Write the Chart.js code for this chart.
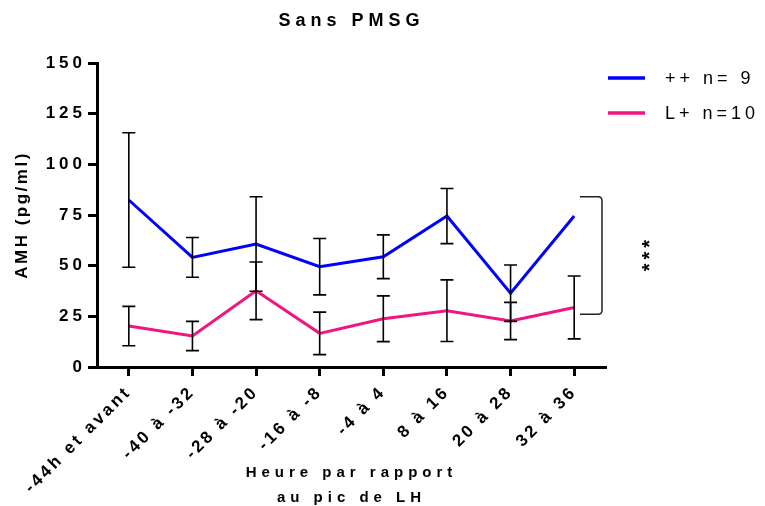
<!DOCTYPE html>
<html><head><meta charset="utf-8">
<script src="https://cdn.jsdelivr.net/npm/chart.js@4.4.1/dist/chart.umd.min.js"></script>
<style>html,body{margin:0;padding:0;background:#fff;overflow:hidden;}</style>
</head><body>
<canvas id="c" width="765" height="506" style="display:block;width:765px;height:506px"></canvas>
<script>
// ---- data ----
const categories = ['-44h et avant', '-40 à -32', '-28 à -20', '-16 à -8', '-4 à 4', '8 à 16', '20 à 28', '32 à 36'];
const seriesNames = ['++ n= 9', 'L+ n=10'];
const plusMean = [82.4, 54.1, 60.7, 49.5, 54.4, 74.5, 36.4, 74.5];
const plusSem  = [33.2, 9.8, 23.3, 13.9, 10.8, 13.6, 13.9, null];
const lPlusMean = [20.2, 15.3, 37.6, 16.6, 23.8, 27.8, 22.7, 29.4];
const lPlusSem  = [9.7, 7.2, 14.2, 10.5, 11.3, 15.2, 9.2, 15.5];
const yTicks = [0, 25, 50, 75, 100, 125, 150];
const bracketRange = [26, 84];
const significance = '***';
const chartTitle = 'Sans PMSG';
const xTitle = ['Heure par rapport', 'au pic de LH'];
const yTitle = 'AMH (pg/ml)';

const FAM = '"Liberation Sans", Arial, sans-serif';
const BLUE = '#0000FF';
const PINK = 'rgb(240,22,128)';

function patchSpacing(scale, tickSp, titleSp) {
  if (scale._spPatched) return;
  scale._spPatched = true;
  const dl = scale.drawLabels.bind(scale);
  scale.drawLabels = function (a) { const c = this.ctx; c.save(); c.letterSpacing = tickSp + 'px'; dl(a); c.restore(); };
  const dt = scale.drawTitle.bind(scale);
  scale.drawTitle = function (a) { const c = this.ctx; c.save(); c.letterSpacing = titleSp + 'px'; dt(a); c.restore(); };
}

const errorBars = {
  id: 'errorBars',
  afterDatasetsDraw(chart) {
    const { ctx, scales: { x, y } } = chart;
    const errs = [plusSem, lPlusSem];
    ctx.save();
    ctx.strokeStyle = '#000';
    ctx.lineWidth = 1.6;
    chart.data.datasets.forEach((ds, di) => {
      ds.data.forEach((v, i) => {
        const e = errs[di][i];
        if (e == null) return;
        const px = x.getPixelForValue(i);
        const t = y.getPixelForValue(v + e);
        const b = y.getPixelForValue(v - e);
        ctx.beginPath();
        ctx.moveTo(px, t); ctx.lineTo(px, b);
        ctx.moveTo(px - 6.5, t); ctx.lineTo(px + 6.5, t);
        ctx.moveTo(px - 6.5, b); ctx.lineTo(px + 6.5, b);
        ctx.stroke();
      });
    });
    ctx.restore();
  }
};

const extras = {
  id: 'extras',
  beforeDraw(chart) { chart.ctx.letterSpacing = '5px'; },
  afterDraw(chart) {
    const { ctx, chartArea: a, scales: { y } } = chart;
    ctx.save();
    // legend
    ctx.letterSpacing = '4px';
    ctx.font = '18px ' + FAM;
    ctx.textBaseline = 'middle';
    ctx.textAlign = 'left';
    ctx.fillStyle = '#000';
    chart.data.datasets.forEach((ds, i) => {
      const ly = a.top + 15 + i * 35;
      ctx.strokeStyle = ds.borderColor;
      ctx.lineWidth = 3.5;
      ctx.beginPath(); ctx.moveTo(a.right + 2, ly); ctx.lineTo(a.right + 39, ly); ctx.stroke();
      ctx.fillText(ds.label, a.right + 59, ly + 1);
    });
    // bracket
    const bt = y.getPixelForValue(bracketRange[1]);
    const bb = y.getPixelForValue(bracketRange[0]);
    const bx = a.right - 4, bl = a.right - 26, r = 4;
    ctx.strokeStyle = '#222';
    ctx.lineWidth = 1.5;
    ctx.beginPath();
    ctx.moveTo(bl, bt);
    ctx.lineTo(bx - r, bt);
    ctx.quadraticCurveTo(bx, bt, bx, bt + r);
    ctx.lineTo(bx, bb - r);
    ctx.quadraticCurveTo(bx, bb, bx - r, bb);
    ctx.lineTo(bl, bb);
    ctx.stroke();
    // significance
    const my = y.getPixelForValue((bracketRange[0] + bracketRange[1]) / 2);
    ctx.translate(a.right + 39, my);
    ctx.rotate(-Math.PI / 2);
    ctx.letterSpacing = '4px';
    ctx.font = 'bold 20px ' + FAM;
    ctx.textAlign = 'center';
    ctx.textBaseline = 'alphabetic';
    ctx.fillText(significance, 2, 11);
    ctx.restore();
  }
};

new Chart(document.getElementById('c'), {
  type: 'line',
  data: {
    labels: categories,
    datasets: [
      { label: seriesNames[0], data: plusMean, borderColor: BLUE, borderWidth: 3, pointRadius: 0, tension: 0, fill: false },
      { label: seriesNames[1], data: lPlusMean, borderColor: PINK, borderWidth: 3, pointRadius: 0, tension: 0, fill: false }
    ]
  },
  options: {
    responsive: false,
    devicePixelRatio: 1,
    animation: false,
    layout: { padding: { left: 0, right: 159, top: 0, bottom: 0 } },
    plugins: {
      legend: { display: false },
      tooltip: { enabled: false },
      title: {
        display: true, text: chartTitle, color: '#000', fullSize: false,
        font: { family: FAM, size: 18, weight: 'bold' },
        padding: { top: 10, bottom: 31.4 }
      }
    },
    scales: {
      x: {
        type: 'category',
        offset: true,
        grid: { display: true, drawOnChartArea: false, drawTicks: true, tickLength: 9, tickWidth: 3, tickColor: '#000', offset: false },
        border: { display: true, width: 3, color: '#000' },
        ticks: { color: '#000', autoSkip: false, maxRotation: 45, minRotation: 45, padding: 6, font: { family: FAM, size: 17, weight: 'bold' } },
        title: { display: true, text: xTitle, color: '#000', padding: { top: 0, bottom: -4 }, font: { family: FAM, size: 15, weight: 'bold', lineHeight: 1.667 } },
        afterFit(s) { s.height = 139; patchSpacing(s, 3, 5); }
      },
      y: {
        min: 0, max: 150,
        afterBuildTicks(s) { s.ticks = yTicks.map(v => ({ value: v })); },
        grid: { display: true, drawOnChartArea: false, drawTicks: true, tickLength: 9, tickWidth: 3, tickColor: '#000' },
        border: { display: true, width: 3, color: '#000' },
        ticks: { color: '#000', padding: 2, font: { family: FAM, size: 17, weight: 'bold' } },
        title: { display: true, text: yTitle, color: '#000', padding: { top: 12, bottom: 0 }, font: { family: FAM, size: 17, weight: 'bold' } },
        afterFit(s) { s.width = 97; patchSpacing(s, 4, 2.5); }
      }
    }
  },
  plugins: [errorBars, extras]
});
</script>
</body></html>
